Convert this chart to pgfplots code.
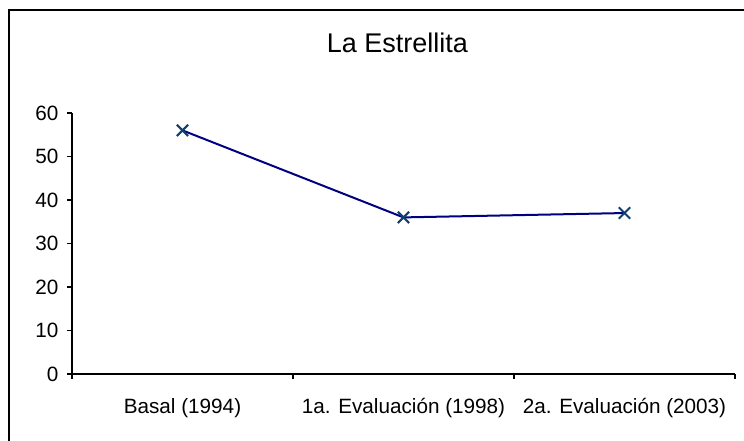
\documentclass[border=0pt]{standalone}
\usepackage{fontspec}
\setmainfont{Liberation Sans}
\usepackage{pgfplots}
\pgfplotsset{compat=1.18}
\definecolor{serieline}{RGB}{0,0,128}
\definecolor{seriemark}{RGB}{16,64,112}
\begin{document}
\begin{tikzpicture}
  \useasboundingbox (0,0) rectangle (744bp,441bp);
  % chart frame (only left and top edges visible in the crop)
  \draw[line width=1.2bp] (9bp,-20bp) |- (780bp,431bp);
  \begin{axis}[
      at={(72bp,67bp)}, anchor=origin,
      scale only axis,
      width=663bp, height=261bp,
      xmin=0, xmax=3, ymin=0, ymax=60,
      axis x line*=bottom, axis y line*=left,
      axis line style={-, line width=1.2bp, black},
      every tick/.style={black, line width=1.2bp},
      tick align=outside,
      major tick length=5bp,
      xtick={0,1,2,3}, xticklabels={},
      extra x ticks={0.5,1.5,2.5},
      extra x tick labels={Basal (1994),1a. Evaluación (1998),2a. Evaluación (2003)},
      extra x tick style={major tick length=0pt},
      ytick={0,10,...,60},
      tick label style={font=\fontsize{20.7bp}{24bp}\selectfont},
      /pgf/number format/assume math mode=true,
      xticklabel style={yshift=-21bp},
      yticklabel style={xshift=-5bp},
      clip=false,
    ]
    \addplot[serieline, line width=2bp, mark=x,
      mark size=8bp, mark options={seriemark, line width=2bp}]
      coordinates {(0.5,56) (1.5,36) (2.5,37)};
  \end{axis}
  \node[anchor=base, font=\fontsize{27bp}{32bp}\selectfont]
    at (397.5bp,388.5bp) {La Estrellita};
\end{tikzpicture}
\end{document}
